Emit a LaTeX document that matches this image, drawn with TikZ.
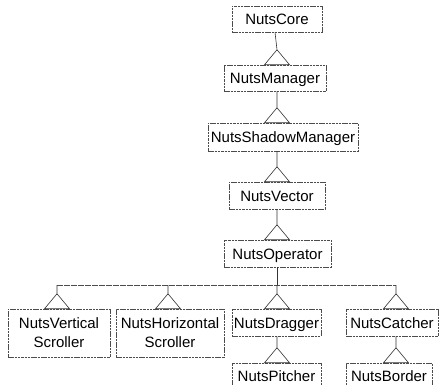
\documentclass[tikz,border=0pt]{standalone}
\usepackage{fontspec}
\setmainfont{Liberation Sans}
\newcommand{\gen}[2]{\draw[link] #2 ++(-12.5,0) -- ++(12.5,-15) coordinate (tip) -- ++(12.5,15) -- cycle (tip) -- #1;}
\begin{document}
\begin{tikzpicture}[x=1pt,y=-1pt,
  cls/.style={draw=black!70, line width=0.5pt, dash pattern=on 2.5pt off 0.8pt, inner sep=0pt, font=\fontsize{15}{19}\selectfont, text=black},
  one/.style={cls, text height=11pt, text depth=0pt},
  two/.style={cls, align=center},
  link/.style={draw=black!80, line width=0.6pt},
  bus/.style={draw=black!70, line width=0.6pt, dash pattern=on 6pt off 1pt}]
\useasboundingbox (0,0) rectangle (444,384);
\node[one, minimum width=90pt, minimum height=26pt] (core) at (277,19) {NutsCore};
\node[one, minimum width=102pt, minimum height=26pt] (mgr) at (275,78) {NutsManager};
\node[one, minimum width=150pt, minimum height=28pt] (shadow) at (283,137) {NutsShadowManager};
\node[one, minimum width=96pt, minimum height=27pt] (vector) at (277,195.5) {NutsVector};
\node[one, minimum width=107pt, minimum height=27pt] (op) at (277.5,253.5) {NutsOperator};
\node[two, minimum width=102pt, minimum height=48pt] (vs) at (59,333) {NutsVertical\\Scroller};
\node[two, minimum width=108pt, minimum height=48pt] (hs) at (170,333) {NutsHorizontal\\Scroller};
\node[one, minimum width=89pt, minimum height=27pt] (drag) at (276.5,322.5) {NutsDragger};
\node[one, minimum width=92pt, minimum height=27pt] (catch) at (392,322.5) {NutsCatcher};
\node[one, minimum width=89pt, minimum height=26pt] (pitch) at (276.5,376) {NutsPitcher};
\node[one, minimum width=86pt, minimum height=26pt] (border) at (389,376) {NutsBorder};
\coordinate (b1) at (57,285);
\coordinate (b2) at (168,285);
\coordinate (b3) at (277,285);
\coordinate (b4) at (396,285);
\gen{(core.south -| mgr.north)}{(mgr.north -| core.south)}
\gen{(mgr.south -| core.south)}{(shadow.north -| core.south)}
\gen{(vector.north |- shadow.south)}{(vector.north)}
\gen{(vector.south)}{(op.north -| vector.south)}
\draw[link] (op.south -| b3) -- (b3);
\draw[bus] (b1) -- (b4);
\gen{(b1)}{(vs.north -| b1)}
\gen{(b2)}{(hs.north -| b2)}
\gen{(b3)}{(drag.north -| b3)}
\gen{(b4)}{(catch.north -| b4)}
\gen{(drag.south -| b3)}{(pitch.north -| b3)}
\gen{(catch.south -| b4)}{(border.north -| b4)}
\end{tikzpicture}
\end{document}
